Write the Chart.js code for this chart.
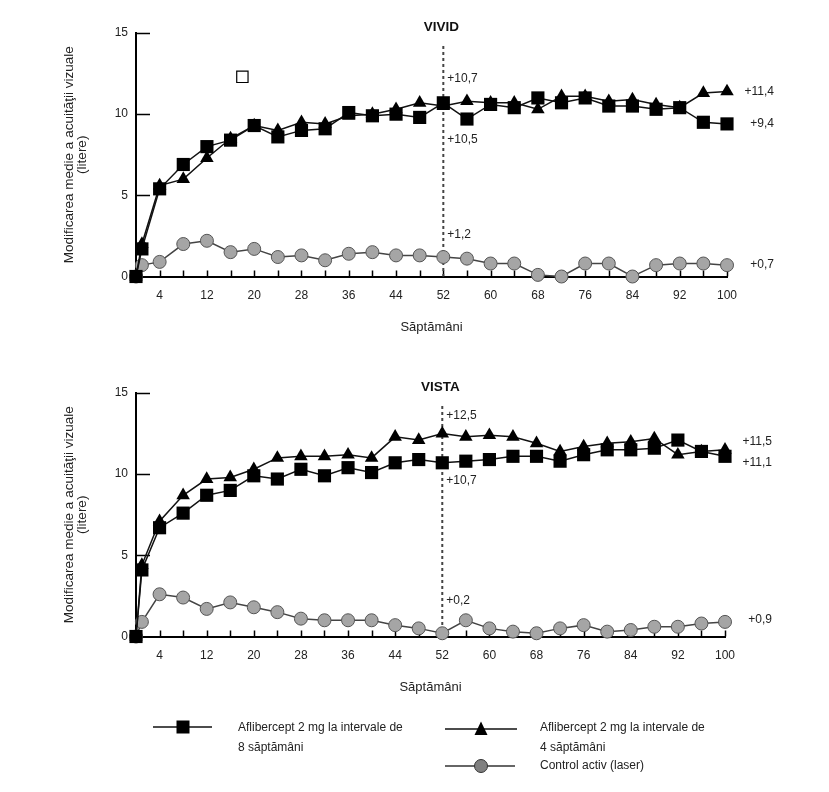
<!DOCTYPE html>
<html lang="ro">
<head>
<meta charset="utf-8">
<title>VIVID / VISTA</title>
<script src="https://cdn.jsdelivr.net/npm/chart.js@4.4.1/dist/chart.umd.min.js"></script>
<style>
  body { margin: 0; background: #fff; font-family: "Liberation Sans", Arial, sans-serif; }
  #page { position: relative; width: 829px; height: 792px; overflow: hidden; }
  .box { position: absolute; left: 0; width: 829px; height: 345px; }
  .legend-text { position: absolute; font-size: 12px; line-height: 20px; color: #222; white-space: nowrap; }
  #legendMarks { position: absolute; left: 0; top: 0; }
</style>
</head>
<body>
<div id="page">
  <div class="box" style="top:0"><canvas id="vividChart"></canvas></div>
  <div class="box" style="top:360px"><canvas id="vistaChart"></canvas></div>

  <svg id="legendMarks" width="829" height="792">
    <line x1="153" y1="727" x2="212" y2="727" stroke="#111" stroke-width="1.6"/>
    <rect x="176.5" y="720.5" width="13" height="13" fill="#000"/>
    <line x1="445" y1="729" x2="517" y2="729" stroke="#111" stroke-width="1.6"/>
    <polygon points="481,721.5 474.5,735 487.5,735" fill="#000"/>
    <line x1="445" y1="766" x2="515" y2="766" stroke="#333" stroke-width="1.6"/>
    <circle cx="481" cy="766" r="6.5" fill="#808080" stroke="#333" stroke-width="1"/>
  </svg>
  <div class="legend-text" style="left:238px; top:717px">Aflibercept 2 mg la intervale de<br>8 săptămâni</div>
  <div class="legend-text" style="left:540px; top:717px">Aflibercept 2 mg la intervale de<br>4 săptămâni</div>
  <div class="legend-text" style="left:540px; top:755px">Control activ (laser)</div>
</div>

<script>
// Saptamani (axa X)
const weeks = [0, 1, 4, 8, 12, 16, 20, 24, 28, 32, 36, 40, 44, 48, 52, 56, 60, 64, 68, 72, 76, 80, 84, 88, 92, 96, 100];
const labelWeeks = [4, 12, 20, 28, 36, 44, 52, 60, 68, 76, 84, 92, 100];
const markWeeks = [4, 8, 12, 16, 20, 24, 28, 32, 36, 40, 44, 48, 52, 56, 60, 64, 68, 72, 76, 80, 84, 88, 92, 96, 100];

// VIVID
const vivid8w = [0, 1.7, 5.4, 6.9, 8.0, 8.4, 9.3, 8.6, 9.0, 9.1, 10.1, 9.9, 10.0, 9.8, 10.7, 9.7, 10.6, 10.4, 11.0, 10.7, 11.0, 10.5, 10.5, 10.3, 10.4, 9.5, 9.4];
const vivid4w = [0, 2.0, 5.6, 6.0, 7.3, 8.5, 9.3, 9.0, 9.5, 9.4, 9.9, 10.0, 10.3, 10.7, 10.5, 10.8, 10.7, 10.7, 10.3, 11.1, 11.1, 10.8, 10.9, 10.6, 10.4, 11.3, 11.4];
const vividLaser = [0, 0.7, 0.9, 2.0, 2.2, 1.5, 1.7, 1.2, 1.3, 1.0, 1.4, 1.5, 1.3, 1.3, 1.2, 1.1, 0.8, 0.8, 0.1, 0.0, 0.8, 0.8, 0.0, 0.7, 0.8, 0.8, 0.7];
// patratel gol ramas in figura originala
const vividStray = [{ x: 18, y: 12.3 }];

// VISTA
const vista8w = [0, 4.1, 6.7, 7.6, 8.7, 9.0, 9.9, 9.7, 10.3, 9.9, 10.4, 10.1, 10.7, 10.9, 10.7, 10.8, 10.9, 11.1, 11.1, 10.8, 11.2, 11.5, 11.5, 11.6, 12.1, 11.4, 11.1];
const vista4w = [0, 4.4, 7.1, 8.7, 9.7, 9.8, 10.3, 11.0, 11.1, 11.1, 11.2, 11.0, 12.3, 12.1, 12.5, 12.3, 12.4, 12.3, 11.9, 11.4, 11.7, 11.9, 12.0, 12.2, 11.2, 11.4, 11.5];
const vistaLaser = [0, 0.9, 2.6, 2.4, 1.7, 2.1, 1.8, 1.5, 1.1, 1.0, 1.0, 1.0, 0.7, 0.5, 0.2, 1.0, 0.5, 0.3, 0.2, 0.5, 0.7, 0.3, 0.4, 0.6, 0.6, 0.8, 0.9];

// Etichete de pe grafic (text, saptamana, nivel pe axa Y)
const vividNotes = [
  { text: "+10,7", x: 52, y: 12.2, align: "left" },
  { text: "+10,5", x: 52, y: 8.4, align: "left" },
  { text: "+1,2", x: 52, y: 2.55, align: "left" },
  { text: "+11,4", x: 100, y: 11.4, align: "right" },
  { text: "+9,4", x: 100, y: 9.4, align: "right" },
  { text: "+0,7", x: 100, y: 0.7, align: "right" },
];
const vistaNotes = [
  { text: "+12,5", x: 52, y: 13.6, align: "left" },
  { text: "+10,7", x: 52, y: 9.6, align: "left" },
  { text: "+0,2", x: 52, y: 2.2, align: "left" },
  { text: "+11,5", x: 100, y: 12.0, align: "right" },
  { text: "+11,1", x: 100, y: 10.7, align: "right" },
  { text: "+0,9", x: 100, y: 1.05, align: "right" },
];

Chart.defaults.font.family = "'Liberation Sans', Arial, sans-serif";
Chart.defaults.font.size = 12;
Chart.defaults.color = "#222";

function toPoints(values) {
  return values.map((v, i) => ({ x: weeks[i], y: v }));
}

// Plugin: linii de marcaj, linia punctata la saptamana 52, titlu si etichete
const studyOverlay = {
  id: "studyOverlay",
  beforeDatasetsDraw(chart, args, opts) {
    const { ctx, chartArea, scales: { x, y } } = chart;
    ctx.save();
    ctx.strokeStyle = "#000";
    ctx.lineWidth = 1.5;
    ctx.beginPath();
    y.ticks.forEach((t) => {
      if (t.value === 0) return;
      const py = Math.round(y.getPixelForValue(t.value)) + 0.5;
      ctx.moveTo(chartArea.left, py);
      ctx.lineTo(chartArea.left + 14, py);
    });
    markWeeks.forEach((w) => {
      const px = Math.round(x.getPixelForValue(w)) + 0.5;
      ctx.moveTo(px, chartArea.bottom);
      ctx.lineTo(px, chartArea.bottom - 6);
    });
    ctx.stroke();

    // linia punctata la saptamana 52
    const px52 = x.getPixelForValue(52);
    ctx.setLineDash([3, 3]);
    ctx.strokeStyle = "#444";
    ctx.lineWidth = 2;
    ctx.beginPath();
    ctx.moveTo(px52, y.getPixelForValue(opts.dashTop));
    ctx.lineTo(px52, chartArea.bottom);
    ctx.stroke();
    ctx.restore();
  },
  afterDatasetsDraw(chart, args, opts) {
    const { ctx, chartArea, scales: { x, y } } = chart;
    ctx.save();
    ctx.fillStyle = "#111";
    ctx.textBaseline = "middle";
    ctx.textAlign = "center";
    ctx.font = "bold 13.5px 'Liberation Sans', Arial, sans-serif";
    ctx.fillText(opts.title, x.getPixelForValue(52) - 2, chartArea.top - 6);

    ctx.font = "12px 'Liberation Sans', Arial, sans-serif";
    ctx.fillStyle = "#222";
    opts.notes.forEach((n) => {
      const px = x.getPixelForValue(n.x);
      ctx.textAlign = n.align;
      const tx = n.align === "left" ? px + 4 : px + 47;
      ctx.fillText(n.text, tx, y.getPixelForValue(n.y));
    });
    ctx.restore();
  },
};

function createStudyChart(canvasId, title, sq, tri, laser, notes, stray, rightPad) {
  const ctx = document.getElementById(canvasId).getContext("2d");
  const datasets = [
    {
      label: "Aflibercept 2 mg la intervale de 8 săptămâni",
      data: toPoints(sq),
      borderColor: "#111",
      borderWidth: 1.5,
      backgroundColor: "#000",
      pointStyle: "rect",
      pointRadius: 9.3,
      pointBorderWidth: 0,
      order: 0,
    },
    {
      label: "Aflibercept 2 mg la intervale de 4 săptămâni",
      data: toPoints(tri),
      borderColor: "#111",
      borderWidth: 1.5,
      backgroundColor: "#000",
      pointStyle: "triangle",
      pointRadius: 7.8,
      pointBorderWidth: 0,
      order: 1,
    },
    {
      label: "Control activ (laser)",
      data: toPoints(laser),
      borderColor: "#444",
      borderWidth: 1.5,
      backgroundColor: "#a5a5a5",
      pointBorderColor: "#555",
      pointStyle: "circle",
      pointRadius: 6.5,
      pointBorderWidth: 1,
      order: 2,
    },
  ];
  if (stray) {
    datasets.push({
      label: "",
      data: stray,
      showLine: false,
      backgroundColor: "#fff",
      borderColor: "#000",
      pointStyle: "rect",
      pointRadius: 8,
      pointBorderWidth: 1.2,
      order: 3,
    });
  }
  datasets.forEach((d) => { d.clip = false; d.tension = 0; });

  return new Chart(ctx, {
    type: "line",
    data: { datasets },
    plugins: [studyOverlay],
    options: {
      responsive: true,
      maintainAspectRatio: false,
      animation: false,
      events: [],
      layout: { padding: { left: 63, right: rightPad, top: 33, bottom: 0 } },
      plugins: {
        legend: { display: false },
        tooltip: { enabled: false },
        studyOverlay: { title, notes, dashTop: 14.2 },
      },
      scales: {
        x: {
          type: "linear",
          min: 0,
          max: 100,
          grid: { display: false, drawTicks: false },
          border: { display: true, color: "#000", width: 2 },
          afterBuildTicks: (scale) => {
            scale.ticks = labelWeeks.map((v) => ({ value: v }));
          },
          afterFit: (scale) => { scale.height = 68.5; },
          ticks: { padding: 12, maxRotation: 0, autoSkip: false },
          title: {
            display: true,
            text: "Săptămâni",
            font: { size: 13 },
            padding: { top: 0, bottom: 10 },
          },
        },
        y: {
          min: 0,
          max: 15,
          grid: { display: false, drawTicks: false },
          border: { display: true, color: "#000", width: 2 },
          afterFit: (scale) => { scale.width = 73; },
          ticks: { stepSize: 5, padding: 8 },
          title: {
            display: true,
            text: ["Modificarea medie a acuităţii vizuale", "(litere)"],
            font: { size: 13.5, lineHeight: "13px" },
            padding: { top: 0, bottom: 0 },
          },
        },
      },
    },
  });
}

window.onload = () => {
  createStudyChart("vividChart", "VIVID", vivid8w, vivid4w, vividLaser, vividNotes, vividStray, 102);
  createStudyChart("vistaChart", "VISTA", vista8w, vista4w, vistaLaser, vistaNotes, null, 104);
};
</script>
</body>
</html>
